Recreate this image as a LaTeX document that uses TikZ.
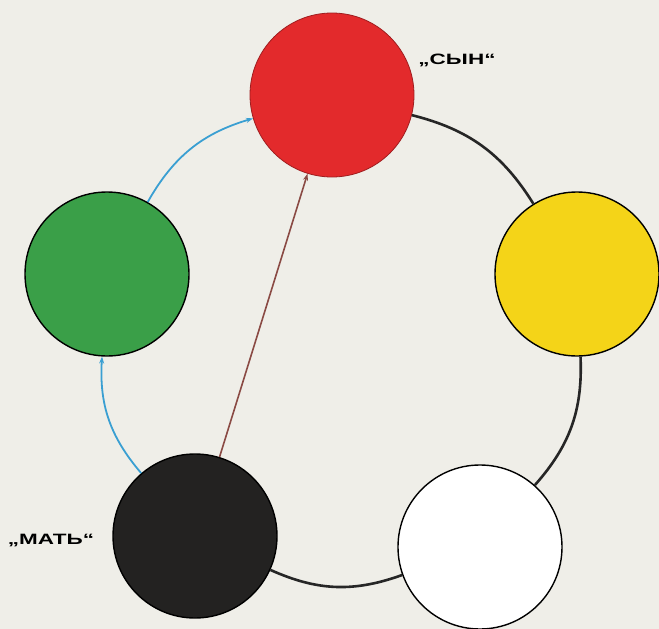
\documentclass[tikz,border=0pt]{standalone}
\usepackage{fontspec}
\setmainfont{Liberation Sans}
\newfontfamily\widefont[FakeStretch=1.5]{Liberation Sans}
\usetikzlibrary{arrows.meta}
\definecolor{paper}{HTML}{EFEEE8}
\definecolor{discred}{HTML}{E32A2C}
\definecolor{discgreen}{HTML}{3A9F48}
\definecolor{discyellow}{HTML}{F4D418}
\definecolor{discblack}{HTML}{232221}
\definecolor{linkblue}{HTML}{3A9FD2}
\definecolor{linkbrown}{HTML}{8A4A44}

\begin{document}
\begin{tikzpicture}[x=1pt,y=-1pt, disc/.style={circle, draw=black, line width=1.4pt, minimum size=164pt, inner sep=0pt}, ring/.style={line width=2.6pt, draw=black!85}, tip/.style={-{Stealth[length=7pt,width=5pt]}}, lab/.style={font=\widefont\bfseries\fontsize{15}{15}\selectfont}]
\fill[paper] (0,0) rectangle (659,629);
\useasboundingbox (0,0) rectangle (659,629);
% discs
\node[disc, fill=discred, draw=discred!70!black, line width=0.8pt] (rot) at (332,95) {};
\node[disc, fill=discgreen] (gruen) at (107,274) {};
\node[disc, fill=discyellow] (gelb) at (577,274) {};
\node[disc, fill=discblack] (schwarz) at (195,536) {};
\node[disc, fill=white] (weiss) at (480,547) {};
% labels
\node[lab] (sohn) at (457,60) {„СЫН“};
\node[lab] (mutter) at (51,540) {„МАТЬ“};
% ring
\draw[ring] (rot) to[bend left=22] (gelb);
\draw[ring] (gelb) to[bend left=22] (weiss);
\draw[ring] (weiss) to[bend left=22] (schwarz);
% arrows
\draw[tip, linkblue, line width=1.8pt] (schwarz) to[bend left=22] (gruen);
\draw[tip, linkblue, line width=1.8pt] (gruen) to[bend left=22] (rot);
\draw[tip, linkbrown, line width=1.6pt] (schwarz) -- (rot);
\end{tikzpicture}
\end{document}
